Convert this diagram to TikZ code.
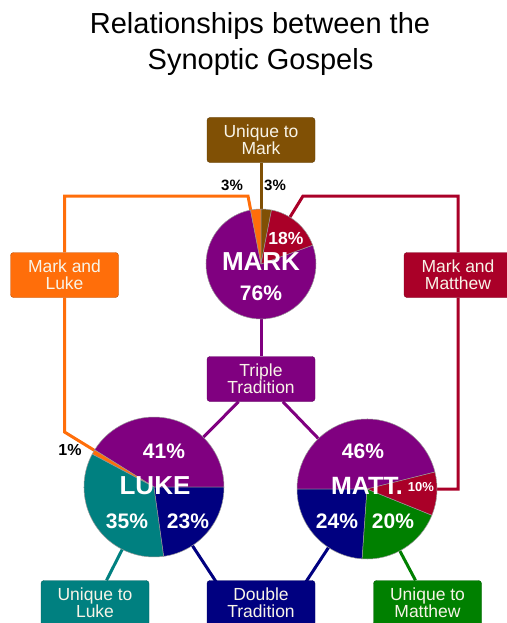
\documentclass[tikz,border=0pt]{standalone}
\usepackage{fontspec}
\setmainfont{Liberation Sans}
\usetikzlibrary{backgrounds}

\definecolor{gpurple}{RGB}{128,0,128}
\definecolor{gbrown}{RGB}{128,80,5}
\definecolor{gorange}{RGB}{255,110,10}
\definecolor{gred}{RGB}{170,0,40}
\definecolor{gteal}{RGB}{0,128,128}
\definecolor{gnavy}{RGB}{0,0,128}
\definecolor{ggreen}{RGB}{0,128,0}
\definecolor{gpale}{RGB}{248,244,232}

\begin{document}
\begin{tikzpicture}[x=1pt,y=1pt,inner sep=0pt,
  box/.style={fill=#1, draw=#1!75!black, rounded corners=3pt, minimum width=108pt,
    minimum height=45pt, text=gpale, align=center, font=\fontsize{17.5}{17}\selectfont},
  lnk/.style={line width=3pt},
  pie/.style={draw=black!40, line width=0.5pt, line join=round},
  pct/.style={text=white, font=\bfseries\fontsize{21}{21}\selectfont},
  big/.style={text=white, font=\bfseries\fontsize{26}{26}\selectfont},
  outpct/.style={text=black, font=\bfseries\fontsize{15}{15}\selectfont}]

\useasboundingbox (0,0) rectangle (506,-623);

\node[anchor=base, font=\fontsize{29}{29}\selectfont] (t1) at (260,-34) {Relationships between the};
\node[anchor=base, font=\fontsize{29}{29}\selectfont] (t2) at (260.5,-70) {Synoptic Gospels};

% Mark
\coordinate (mark) at (261,-264);
\filldraw[pie,fill=gpurple] (mark) -- ++(101:55) arc[start angle=101,end angle=380,radius=55] -- cycle;
\filldraw[pie,fill=gorange] (mark) -- ++(90:55) arc[start angle=90,end angle=101,radius=55] -- cycle;
\filldraw[pie,fill=gbrown] (mark) -- ++(79:55) arc[start angle=79,end angle=90,radius=55] -- cycle;
\filldraw[pie,fill=gred] (mark) -- ++(20:55) arc[start angle=20,end angle=79,radius=55] -- cycle;

% Luke
\coordinate (luke) at (154,-487);
\filldraw[pie,fill=gpurple] (luke) -- ++(0:70) arc[start angle=0,end angle=148,radius=70] -- cycle;
\filldraw[pie,fill=gorange] (luke) -- ++(148:70) arc[start angle=148,end angle=152,radius=70] -- cycle;
\filldraw[pie,fill=gteal] (luke) -- ++(152:70) arc[start angle=152,end angle=278,radius=70] -- cycle;
\filldraw[pie,fill=gnavy] (luke) -- ++(278:70) arc[start angle=278,end angle=360,radius=70] -- cycle;

% Matthew
\coordinate (matt) at (367,-489);
\filldraw[pie,fill=gpurple] (matt) -- ++(14:70) arc[start angle=14,end angle=180,radius=70] -- cycle;
\filldraw[pie,fill=gnavy] (matt) -- ++(180:70) arc[start angle=180,end angle=266,radius=70] -- cycle;
\filldraw[pie,fill=ggreen] (matt) -- ++(266:70) arc[start angle=266,end angle=338,radius=70] -- cycle;
\filldraw[pie,fill=gred] (matt) -- ++(338:70) arc[start angle=338,end angle=374,radius=70] -- cycle;

\node[big] (mkname) at (261,-262) {MARK};
\node[pct] (mk76) at (261,-293) {76\%};
\node[pct, font=\bfseries\fontsize{17.5}{17.5}\selectfont] (mk18) at (286,-238) {18\%};
\node[outpct] (mk3a) at (232,-185) {3\%};
\node[outpct] (mk3b) at (275,-185) {3\%};

\node[big] (lkname) at (155,-486) {LUKE};
\node[pct] (lk41) at (164,-451) {41\%};
\node[pct] (lk35) at (127,-521) {35\%};
\node[pct] (lk23) at (188,-521) {23\%};
\node[outpct, font=\bfseries\fontsize{16}{16}\selectfont] (lk1) at (70,-450) {1\%};

\node[big, font=\bfseries\fontsize{25}{25}\selectfont] (mtname) at (367,-486) {MATT.};
\node[pct] (mt46) at (363,-451) {46\%};
\node[pct, font=\bfseries\fontsize{13}{13}\selectfont] (mt10) at (421,-487) {10\%};
\node[pct] (mt24) at (337,-521) {24\%};
\node[pct] (mt20) at (393,-521) {20\%};

\node[box=gbrown] (um) at (261,-140) {Unique to\\Mark};
\node[box=gorange] (ml) at (64.5,-275) {Mark and\\Luke};
\node[box=gred] (mm) at (458,-275) {Mark and\\Matthew};
\node[box=gpurple] (tt) at (261,-379) {Triple\\Tradition};
\node[box=gteal] (ul) at (95,-603) {Unique to\\Luke};
\node[box=gnavy] (dt) at (261,-603) {Double\\Tradition};
\node[box=ggreen] (umt) at (427.5,-603) {Unique to\\Matthew};

\coordinate (o1) at (248,-196);
\coordinate (o2) at (64.5,-432);
\coordinate (r1) at (303,-196);

\begin{scope}[on background layer]
\draw[lnk, gbrown] (um) -- (mark);
\draw[lnk, gorange] (mark) -- (o1) -| (ml) -- (o2) -- (luke);
\draw[lnk, gred] (mark) -- (r1) -| (mm) |- (matt);
\draw[lnk, gpurple] (mark) -- (tt);
\draw[lnk, gpurple] (tt) -- (luke);
\draw[lnk, gpurple] (tt) -- (matt);
\draw[lnk, gteal] (luke) -- (ul);
\draw[lnk, gnavy] (luke) -- ([xshift=-31pt]dt.center);
\draw[lnk, gnavy] (matt) -- ([xshift=31pt]dt.center);
\draw[lnk, ggreen] (matt) -- (umt);
\end{scope}

\end{tikzpicture}
\end{document}
